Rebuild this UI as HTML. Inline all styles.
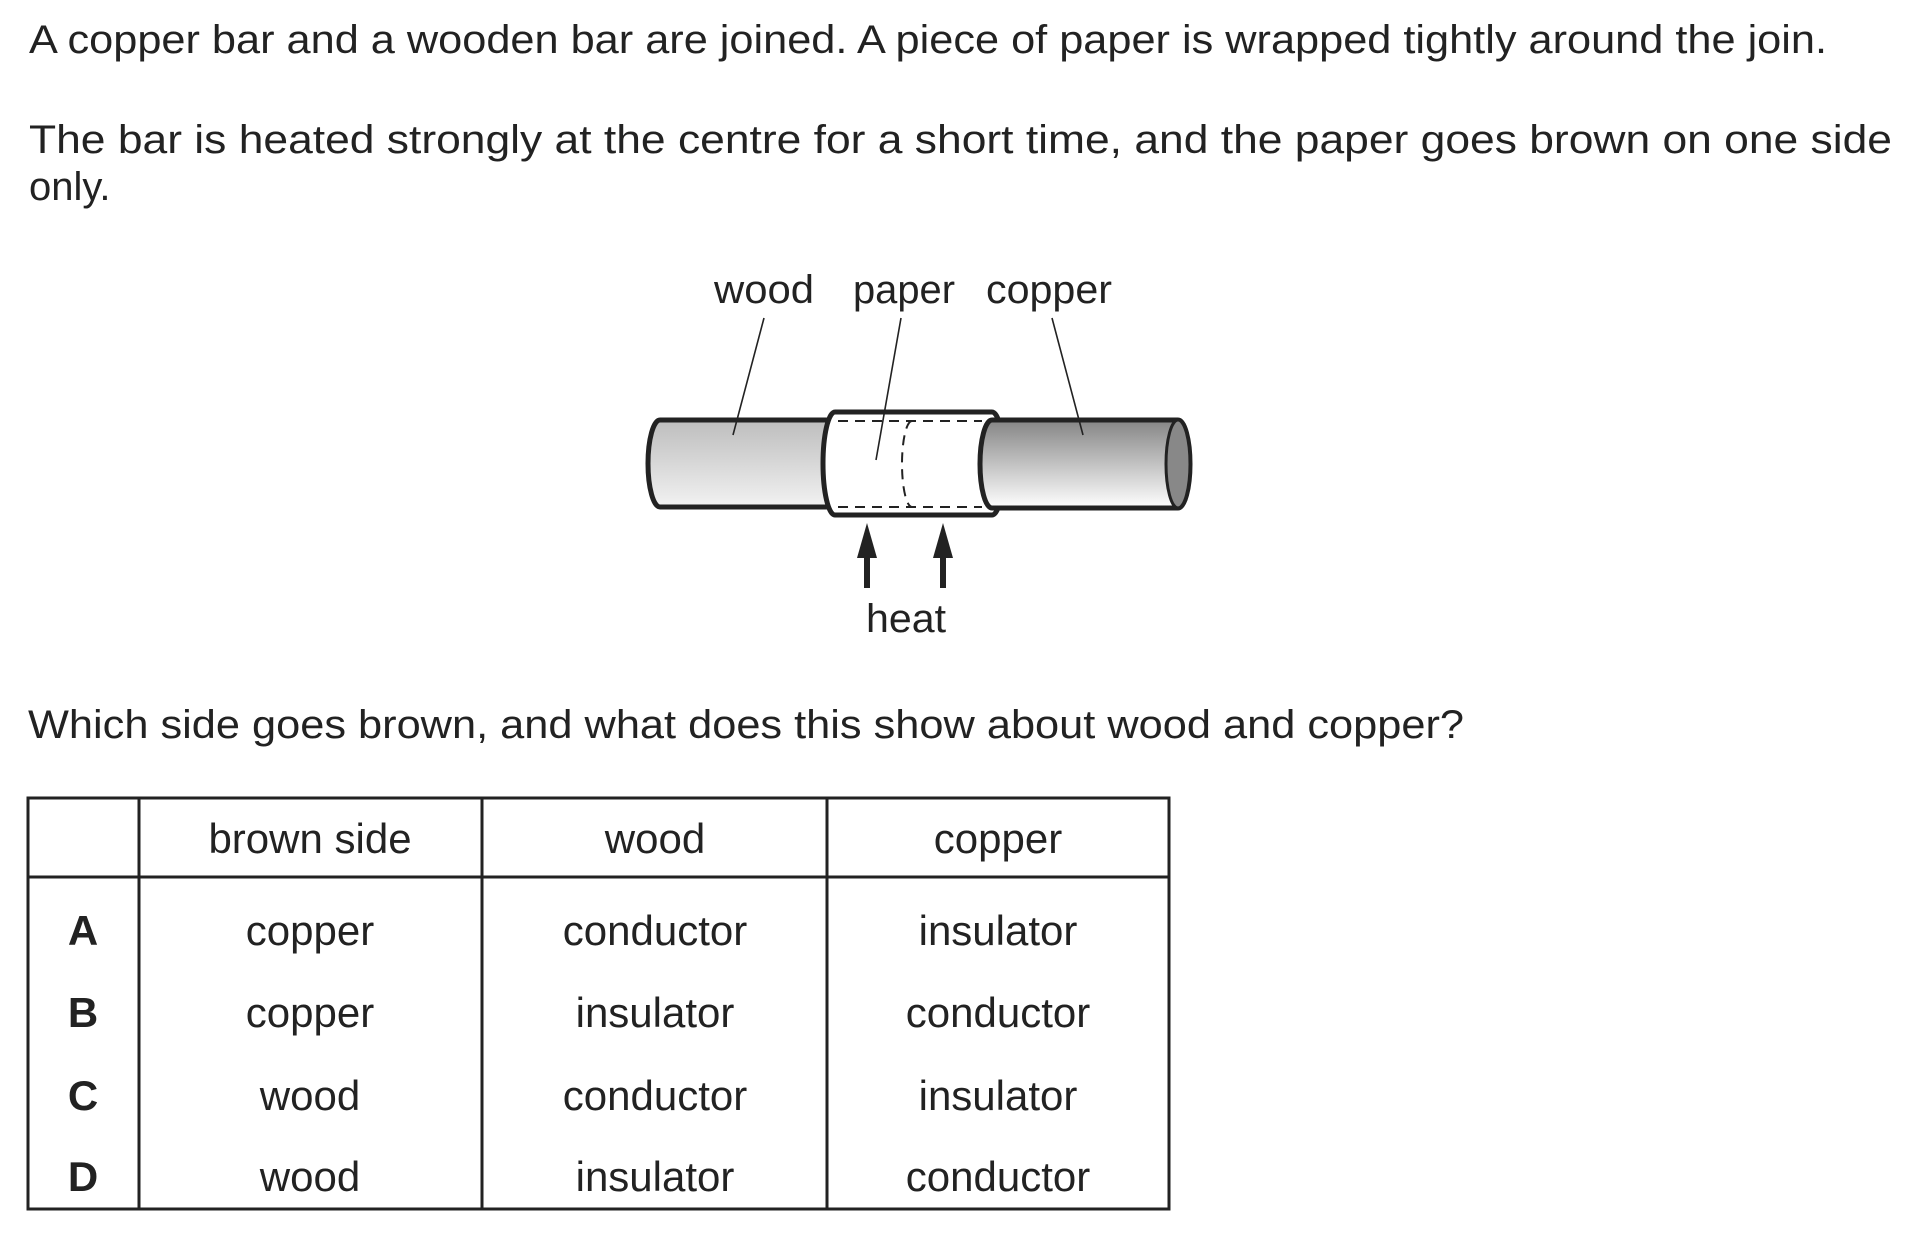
<!DOCTYPE html>
<html><head><meta charset="utf-8"><style>html,body{margin:0;padding:0;background:#fff}svg{display:block}</style></head>
<body>
<svg width="1925" height="1242" viewBox="0 0 1925 1242" xmlns="http://www.w3.org/2000/svg" font-family="Liberation Sans, Arial, sans-serif" fill="#222">
<defs>
<linearGradient id="gw" x1="0" y1="0" x2="0" y2="1"><stop offset="0" stop-color="#bdbdbd"/><stop offset="1" stop-color="#f2f2f2"/></linearGradient>
<linearGradient id="gc" x1="0" y1="0" x2="0" y2="1"><stop offset="0" stop-color="#858585"/><stop offset="1" stop-color="#ffffff"/></linearGradient>
</defs>
<g font-size="40">
<text x="29" y="53" textLength="1798" lengthAdjust="spacingAndGlyphs">A copper bar and a wooden bar are joined. A piece of paper is wrapped tightly around the join.</text>
<text x="29" y="153" textLength="1863" lengthAdjust="spacingAndGlyphs">The bar is heated strongly at the centre for a short time, and the paper goes brown on one side</text>
<text x="29" y="200">only.</text>
<text x="28" y="738" textLength="1436" lengthAdjust="spacingAndGlyphs">Which side goes brown, and what does this show about wood and copper?</text>
<text x="714" y="303" textLength="100" lengthAdjust="spacingAndGlyphs">wood</text>
<text x="853" y="303" textLength="102" lengthAdjust="spacingAndGlyphs">paper</text>
<text x="986" y="303" textLength="126" lengthAdjust="spacingAndGlyphs">copper</text>
<text x="866" y="632" textLength="80" lengthAdjust="spacingAndGlyphs">heat</text>
</g>
<path d="M660 420 L840 420 L840 507 L660 507 A12 43.5 0 0 1 660 420 Z" fill="url(#gw)" stroke="#222" stroke-width="5"/>
<path d="M835 412 L992 412 A12 51.5 0 0 1 992 515 L835 515 A12 51.5 0 0 1 835 412 Z" fill="#fff" stroke="#222" stroke-width="5"/>
<path d="M992 420 L1178 420 A12 44 0 0 1 1178 508 L992 508 A12 44 0 0 1 992 420 Z" fill="url(#gc)" stroke="#222" stroke-width="5"/>
<ellipse cx="1178" cy="464" rx="12" ry="44" fill="#888" stroke="#222" stroke-width="3"/>
<g stroke="#222" stroke-width="2" fill="none" stroke-dasharray="10,7">
<line x1="838" y1="421" x2="982" y2="421"/>
<line x1="838" y1="507" x2="982" y2="507"/>
<path d="M912 421 A10 43 0 0 0 912 507"/>
</g>
<g stroke="#222" stroke-width="1.6">
<line x1="764" y1="318" x2="733" y2="435"/>
<line x1="901" y1="318" x2="876" y2="460"/>
<line x1="1052" y1="318" x2="1083" y2="435"/>
</g>
<g fill="#222">
<rect x="864" y="555" width="6" height="33"/>
<polygon points="867,523 857,558 877,558"/>
<rect x="940" y="555" width="6" height="33"/>
<polygon points="943,523 933,558 953,558"/>
</g>
<g stroke="#222" stroke-width="3" fill="none">
<rect x="28" y="798" width="1141" height="411"/>
<line x1="139" y1="798" x2="139" y2="1209"/>
<line x1="482" y1="798" x2="482" y2="1209"/>
<line x1="827" y1="798" x2="827" y2="1209"/>
<line x1="28" y1="877" x2="1169" y2="877"/>
</g>
<g font-size="42" text-anchor="middle">
<text x="310" y="853">brown side</text><text x="655" y="853">wood</text><text x="998" y="853">copper</text>
<g font-weight="bold"><text x="83" y="945">A</text><text x="83" y="1027">B</text><text x="83" y="1110">C</text><text x="83" y="1191">D</text></g>
<text x="310" y="945">copper</text><text x="655" y="945">conductor</text><text x="998" y="945">insulator</text>
<text x="310" y="1027">copper</text><text x="655" y="1027">insulator</text><text x="998" y="1027">conductor</text>
<text x="310" y="1110">wood</text><text x="655" y="1110">conductor</text><text x="998" y="1110">insulator</text>
<text x="310" y="1191">wood</text><text x="655" y="1191">insulator</text><text x="998" y="1191">conductor</text>
</g>
</svg>
</body></html>
